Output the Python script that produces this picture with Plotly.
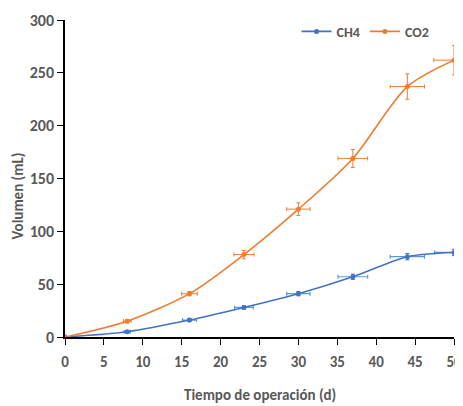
import plotly.graph_objects as go

# tiempo (d) y volumen acumulado (mL)
dias = [0, 8, 16, 23, 30, 37, 44, 50]
ch4 = [0, 5, 16, 28, 41, 57, 76, 80]
co2 = [0, 15, 41, 78, 121, 169, 237, 262]

# barras de error
ch4_err_y = [0, 1, 1.5, 1.5, 2, 2.5, 3, 3]
ch4_err_x = [0, 0.4, 0.9, 1.2, 1.5, 1.9, 2.2, 2.5]
co2_err_y = [0, 1.5, 2, 4, 6, 8.5, 12, 14]
co2_err_x = [0, 0.5, 1.0, 1.3, 1.5, 1.9, 2.2, 2.6]

azul = "#4472C4"
naranja = "#ED7D31"

fig = go.Figure()

fig.add_trace(go.Scatter(
    x=dias, y=ch4, name="CH4", mode="lines+markers",
    line=dict(color=azul, width=1.6, shape="spline", smoothing=0.8),
    marker=dict(color=azul, size=5),
    error_y=dict(type="data", array=ch4_err_y, color=azul, thickness=1, width=2),
    error_x=dict(type="data", array=ch4_err_x, color="#5B9BD5", thickness=1.2, width=2),
))
fig.add_trace(go.Scatter(
    x=dias, y=co2, name="CO2", mode="lines+markers",
    line=dict(color=naranja, width=1.6, shape="spline", smoothing=0.8),
    marker=dict(color=naranja, size=5),
    error_y=dict(type="data", array=co2_err_y, color=naranja, thickness=1, width=2),
    error_x=dict(type="data", array=co2_err_x, color=naranja, thickness=1, width=2),
))

estrecha = "Carlito, DejaVu Sans Condensed, Liberation Sans Narrow, Liberation Sans, sans-serif"
gris = "#595959"

# la pagina deja 8px de margen en el body, se descuentan aqui
fig.update_layout(
    width=455, height=398,
    margin=dict(l=57, r=9, t=11, b=69),
    paper_bgcolor="white", plot_bgcolor="white",
    font=dict(family=estrecha, color=gris),
    showlegend=True,
    legend=dict(orientation="h", x=0.95, y=1.01, xanchor="right", yanchor="top",
                font=dict(family=estrecha, size=14, color=gris, weight="bold"),
                itemwidth=30, bgcolor="rgba(0,0,0,0)", tracegroupgap=0),
)

fig.update_xaxes(
    range=[0, 50], tickmode="linear", tick0=0, dtick=5, automargin=False,
    showgrid=False, zeroline=False,
    showline=True, linecolor="black", linewidth=1.5,
    ticks="outside", ticklen=6, tickcolor="black", tickwidth=1,
    ticklabelstandoff=4,
    tickfont=dict(family=estrecha, size=15, color=gris, weight="bold"),
)
fig.update_yaxes(
    range=[0, 300], tickmode="linear", tick0=0, dtick=50, automargin=False,
    showgrid=False, zeroline=False,
    showline=True, linecolor="black", linewidth=1.5,
    ticks="outside", ticklen=6, tickcolor="black", tickwidth=1,
    tickfont=dict(family=estrecha, size=16, color=gris, weight="bold"),
)

# titulos de ejes como anotaciones para fijar su posicion
fig.add_annotation(text="Tiempo de operación (d)", xref="paper", yref="paper",
                   x=0.5, y=0, yshift=-58, yanchor="middle", showarrow=False,
                   font=dict(family=estrecha, size=15, color=gris, weight="bold"))
fig.add_annotation(text="Volumen (mL)", xref="paper", yref="paper", textangle=-90,
                   x=0, y=0.443, xshift=-47, xanchor="center", yanchor="middle", showarrow=False,
                   font=dict(family=estrecha, size=15, color=gris, weight="bold"))

fig.write_html("out.html")
